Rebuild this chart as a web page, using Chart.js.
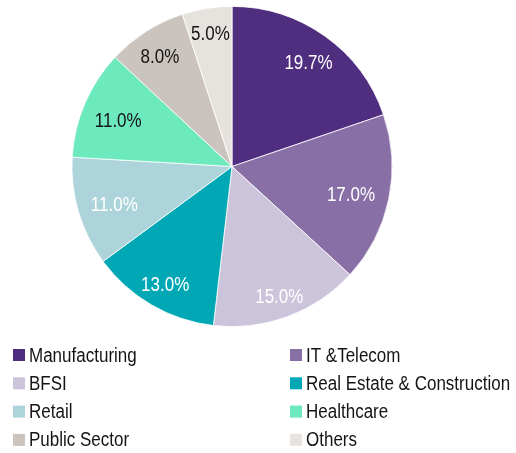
<!DOCTYPE html>
<html>
<head>
<meta charset="utf-8">
<script src="https://cdn.jsdelivr.net/npm/chart.js@4.4.0/dist/chart.umd.min.js"></script>
<style>
  html, body { margin: 0; padding: 0; background: #fff; }
  #wrap { width: 516px; height: 453px; }
</style>
</head>
<body>
<div id="wrap"><canvas id="grafica" width="516" height="453"></canvas></div>
<script>
// datos de la gráfica
var sectores = ['Manufacturing', 'IT &Telecom', 'BFSI', 'Real Estate & Construction', 'Retail', 'Healthcare', 'Public Sector', 'Others'];
var porcentajes = [19.7, 17.0, 15.0, 13.0, 11.0, 11.0, 8.0, 5.0];
var colores = ['#4f2d7f', '#8870a6', '#ccc4da', '#00a7b5', '#add4db', '#6deabd', '#cbc4be', '#e6e2de'];
var coloresTexto = ['#ffffff', '#ffffff', '#ffffff', '#ffffff', '#ffffff', '#141414', '#141414', '#141414'];

var FUENTE = '20px "Liberation Sans", Arial, sans-serif';
var ESTRECHO = 0.85; // el texto original es más estrecho

function textoEstrecho(ctx, txt, x, y) {
    ctx.save();
    ctx.translate(x, y);
    ctx.scale(ESTRECHO, 1);
    ctx.fillText(txt, 0, 0);
    ctx.restore();
}

// etiquetas de porcentaje dentro de cada sector (la caja de texto queda dentro del círculo)
var etiquetas = {
    id: 'etiquetas',
    afterDatasetsDraw: function (chart) {
        var ctx = chart.ctx;
        var meta = chart.getDatasetMeta(0);
        ctx.save();
        ctx.font = FUENTE;
        ctx.textAlign = 'center';
        ctx.textBaseline = 'middle';
        meta.data.forEach(function (arc, i) {
            var p = arc.getProps(['x', 'y', 'startAngle', 'endAngle', 'outerRadius']);
            var txt = porcentajes[i].toFixed(1) + '%';
            var w = ctx.measureText(txt).width * ESTRECHO;
            var a = (p.startAngle + p.endAngle) / 2;
            var ax = p.outerRadius * 0.9 - w / 2 + 1;
            var by = p.outerRadius * 0.9 - 6;
            var c = Math.cos(a), s = Math.sin(a);
            var r = 1 / Math.sqrt((c / ax) * (c / ax) + (s / by) * (s / by));
            ctx.fillStyle = coloresTexto[i];
            textoEstrecho(ctx, txt, p.x + c * r, p.y + s * r + 4);
        });
        ctx.restore();
    }
};

// leyenda en dos columnas
var leyenda = {
    id: 'leyenda',
    afterDraw: function (chart) {
        var ctx = chart.ctx;
        ctx.save();
        ctx.font = FUENTE;
        ctx.textAlign = 'left';
        ctx.textBaseline = 'middle';
        sectores.forEach(function (s, i) {
            var x = (i % 2 === 0) ? 13 : 290;
            var y = 355 + Math.floor(i / 2) * 28.3;
            ctx.fillStyle = colores[i];
            ctx.fillRect(x, y - 6, 12, 12);
            ctx.fillStyle = '#141414';
            textoEstrecho(ctx, s, x + 16, y + 1);
        });
        ctx.restore();
    }
};

var gx = document.getElementById('grafica').getContext('2d');
var miGrafica = new Chart(gx, {
    type: 'pie',
    data: {
        labels: sectores,
        datasets: [{
            data: porcentajes,
            backgroundColor: colores,
            borderColor: '#ffffff',
            borderWidth: 0.8
        }]
    },
    options: {
        responsive: false,
        animation: false,
        layout: { padding: { top: 6, bottom: 126, left: 0, right: 52 } },
        plugins: {
            legend: { display: false },
            tooltip: { enabled: false }
        }
    },
    plugins: [etiquetas, leyenda]
});
</script>
</body>
</html>
